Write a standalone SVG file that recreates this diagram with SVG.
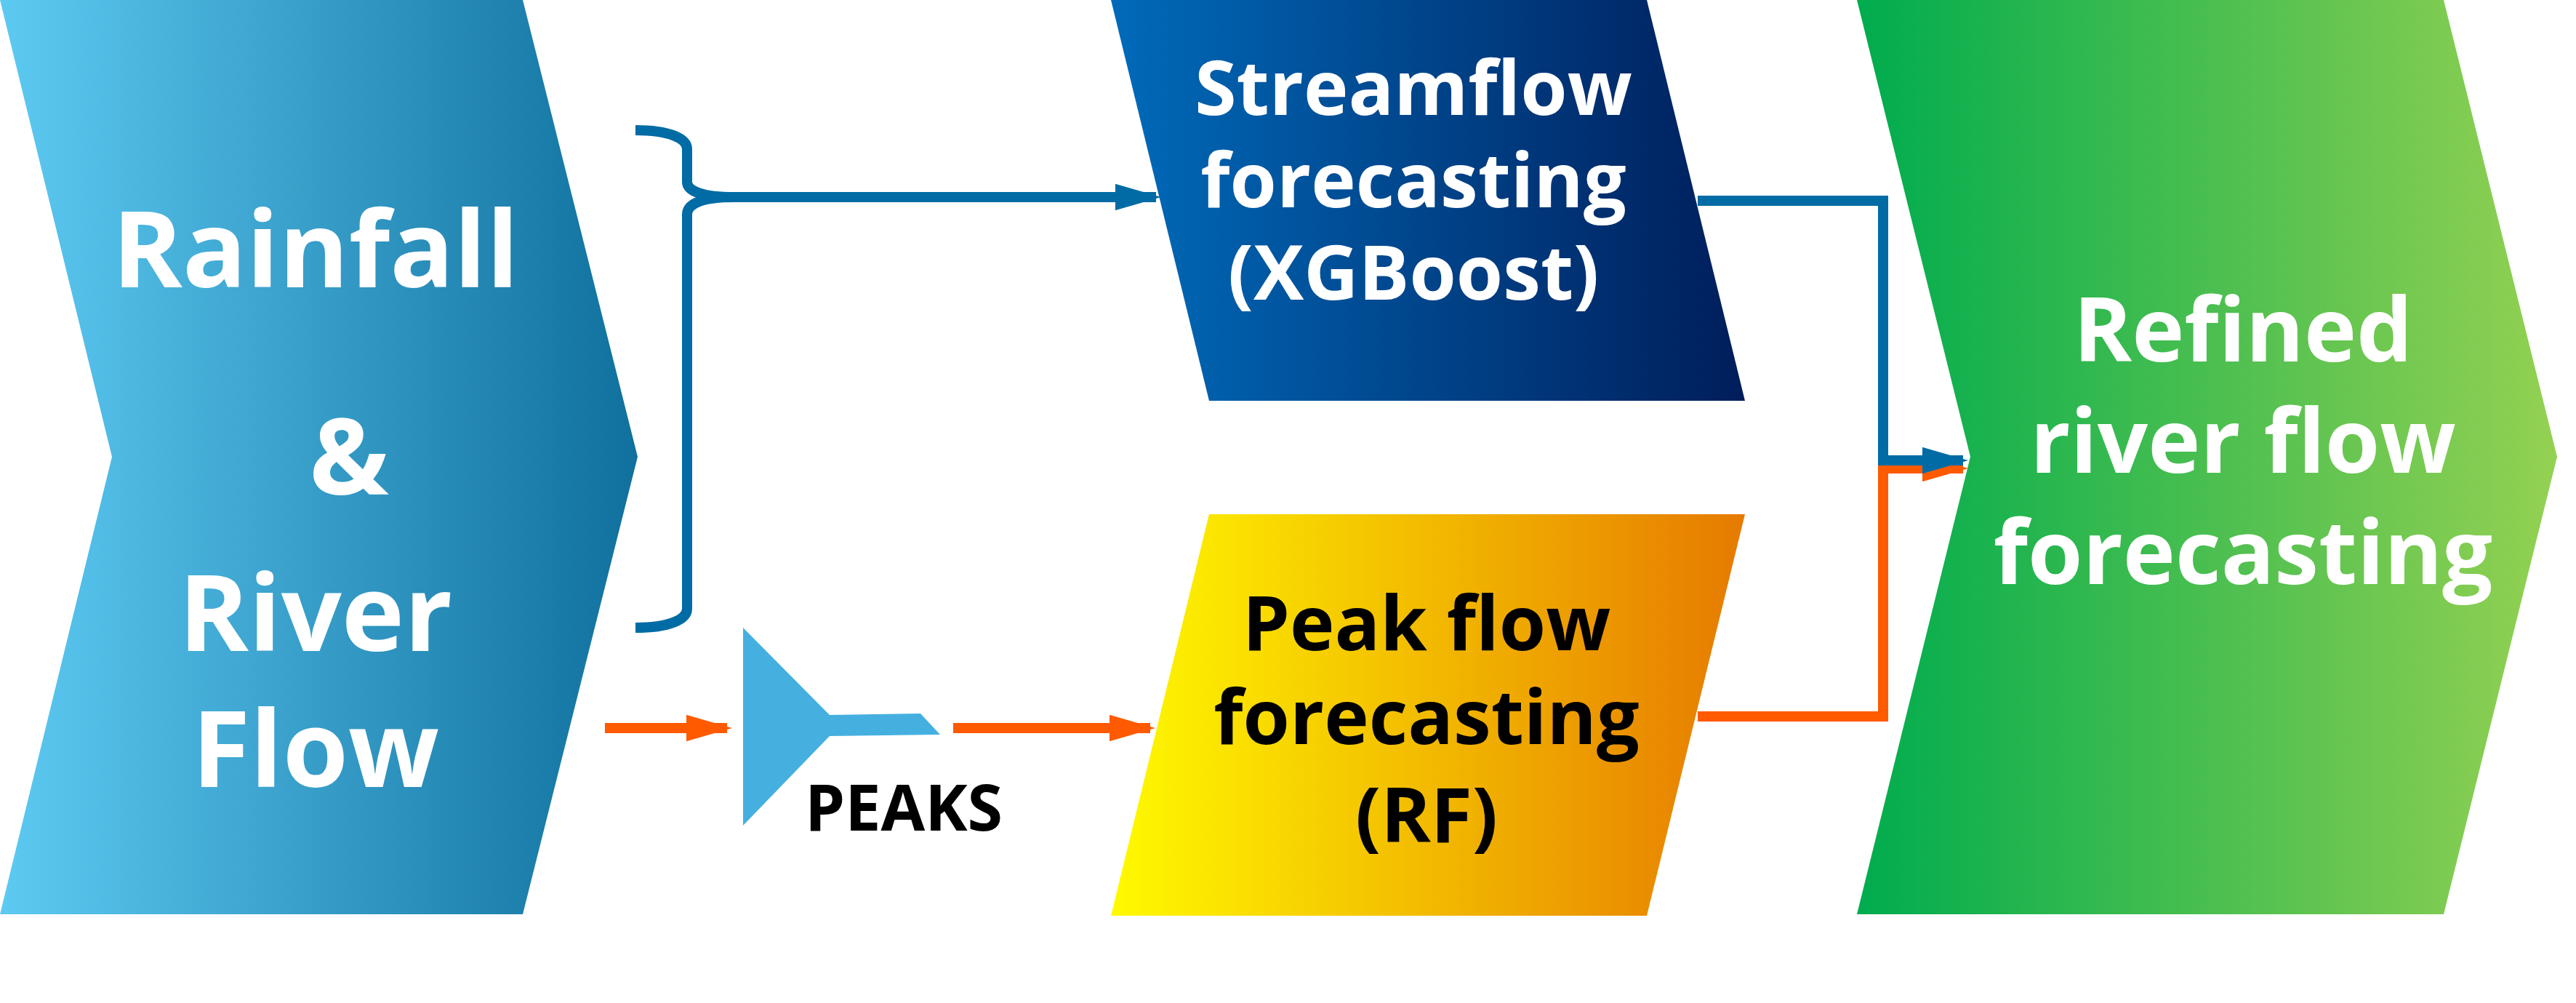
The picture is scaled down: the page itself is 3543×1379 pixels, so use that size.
<svg xmlns="http://www.w3.org/2000/svg" width="3543" height="1379" viewBox="0 0 3543 1379">
<defs>
<linearGradient id="gL" x1="0" x2="1"><stop offset="0" stop-color="#5DCAF2"/><stop offset="1" stop-color="#10709E"/></linearGradient>
<linearGradient id="gS" x1="0" x2="1"><stop offset="0" stop-color="#006BBA"/><stop offset="1" stop-color="#001D5A"/></linearGradient>
<linearGradient id="gP" x1="0" x2="1"><stop offset="0" stop-color="#FFFA00"/><stop offset="1" stop-color="#E67A00"/></linearGradient>
<linearGradient id="gG" x1="0" x2="1"><stop offset="0" stop-color="#00AC4E"/><stop offset="1" stop-color="#94D152"/></linearGradient>
<marker id="aB" markerWidth="4.5" markerHeight="2.6" refX="4" refY="1.3" orient="auto" markerUnits="strokeWidth"><path d="M0,0 L4.5,1.3 L0,2.6 Z" fill="#006BA4"/></marker>
<marker id="aO" markerWidth="4.5" markerHeight="2.6" refX="4" refY="1.3" orient="auto" markerUnits="strokeWidth"><path d="M0,0 L4.5,1.3 L0,2.6 Z" fill="#FF5A00"/></marker>
</defs>
<style>
text{font-family:"Open Sans","Noto Sans",sans-serif;font-weight:bold;text-anchor:middle}
.w{fill:#fff}.k{fill:#000}
.b{fill:none;stroke:#006BA4;stroke-width:14}
.o{fill:none;stroke:#FF5A00;stroke-width:14}
</style>
<rect width="3543" height="1379" fill="#fff"/>
<g id="input">
<polygon points="0,0 719,0 877,628 719,1257 0,1257 154,628" fill="url(#gL)"/>
<text class="w" font-size="146" x="434" y="395">Rainfall</text>
<text class="w" font-size="146" x="480" y="680">&amp;</text>
<text class="w" font-size="146" x="434" y="895">River</text>
<text class="w" font-size="146" x="434" y="1082">Flow</text>
</g>
<g id="streamflow">
<polygon points="1528,0 2265,0 2400,551 1663,551" fill="url(#gS)"/>
<text class="w" font-size="104" x="1944" y="158">Streamflow</text>
<text class="w" font-size="104" x="1944" y="285">forecasting</text>
<text class="w" font-size="104" x="1944" y="412">(XGBoost)</text>
</g>
<g id="peak">
<polygon points="1663,707 2400,707 2265,1259 1528,1259" fill="url(#gP)"/>
<text class="k" font-size="104" x="1962" y="894">Peak flow</text>
<text class="k" font-size="104" x="1962" y="1023">forecasting</text>
<text class="k" font-size="104" x="1962" y="1158">(RF)</text>
</g>
<g id="refined">
<polygon points="2554,0 3361,0 3517,628 3361,1257 2554,1257 2710,628" fill="url(#gG)"/>
<text class="w" font-size="122" x="3085" y="497">Refined</text>
<text class="w" font-size="122" x="3085" y="650">river flow</text>
<text class="w" font-size="122" x="3085" y="803">forecasting</text>
</g>
<g id="peaks">
<polygon points="1022,863 1141,983 1266,981 1293,1010 1141,1012 1022,1135" fill="#45B0E0"/>
<text class="k" font-size="88" x="1243" y="1142">PEAKS</text>
</g>
<g id="connectors">
<path class="b" d="M874,179 C920,179 945,190 945,205 V250 C945,262 965,271 1010,271 H1590" marker-end="url(#aB)"/>
<path class="b" d="M874,863 C920,863 945,852 945,837 V295 C945,280 965,271 1010,271"/>
<path class="o" d="M2335,985 H2590 V644 H2700" marker-end="url(#aO)"/>
<path class="b" d="M2335,276 H2590 V633 H2700" marker-end="url(#aB)"/>
<path class="o" d="M832,1001 H1000" marker-end="url(#aO)"/>
<path class="o" d="M1311,1001 H1582" marker-end="url(#aO)"/>
</g>
</svg>
